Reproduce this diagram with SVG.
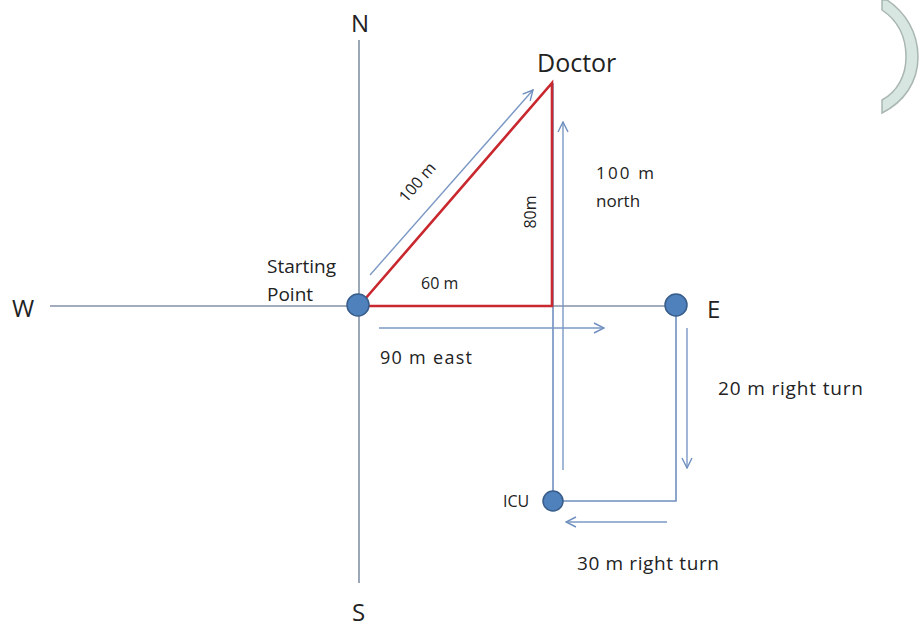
<svg xmlns="http://www.w3.org/2000/svg" width="922" height="629" viewBox="0 0 922 629">
<defs>
<marker id="arr" viewBox="0 0 12 12" refX="11" refY="6" markerWidth="12" markerHeight="12" markerUnits="userSpaceOnUse" orient="auto">
<polyline points="1,1 11,6 1,11" fill="none" stroke="#6f8fbf" stroke-width="1.4"/>
</marker>
<style>
text{font-family:"Open Sans","Liberation Sans",sans-serif;fill:#222}
.axis{stroke:#8391a6;stroke-width:1.6;fill:none}
.path{stroke:#6f8fbf;stroke-width:1.6;fill:none}
.arrow{stroke:#7b98c4;stroke-width:1.4;fill:none;marker-end:url(#arr)}
.red{stroke:#c8282e;stroke-width:2.6;fill:none}
.dot{fill:#4f81bd;stroke:#385d8a;stroke-width:1.5}
.big{font-size:24px}
.sm{font-size:16px}
.md{font-size:19px}
</style>
</defs>
<rect width="922" height="629" fill="#ffffff"/>
<path d="M887 0 C905 12 918 32 918 57 C918 82 904 102 882 113 L882 100 C897 92 906 76 906 57 C906 36 897 20 882 10 L882 0 Z" fill="#d7e6e1" stroke="#a9b6b2" stroke-width="1.5"/>
<g id="connectors">
<line class="axis" x1="359" y1="40" x2="359" y2="583"/>
<line class="axis" x1="50" y1="306" x2="676" y2="306"/>
<polyline class="path" points="676,306 676,501 553,501"/>
<line class="path" x1="553" y1="501" x2="553" y2="83"/>
<polyline class="red" points="359,306 552,83 552,306 359,306"/>
<line class="arrow" x1="370" y1="275" x2="533" y2="90"/>
<line class="arrow" x1="563" y1="470" x2="563" y2="122"/>
<line class="arrow" x1="379" y1="328" x2="604" y2="328"/>
<line class="arrow" x1="687" y1="328" x2="687" y2="468"/>
<line class="arrow" x1="667" y1="522" x2="566" y2="522"/>
</g>
<g id="n-label"><text class="big" x="351" y="32">N</text></g>
<g id="s-label"><text class="big" x="352" y="621">S</text></g>
<g id="w-label"><text class="big" x="12" y="317">W</text></g>
<g id="start"><circle class="dot" cx="358" cy="305" r="11"/>
<text x="267" y="273" style="font-size:19px">Starting</text>
<text x="267" y="301" style="font-size:19px">Point</text></g>
<g id="east"><circle class="dot" cx="676" cy="305" r="11"/>
<text class="big" x="707" y="318">E</text></g>
<g id="doctor"><text x="537" y="72" style="font-size:25px">Doctor</text></g>
<g id="icu"><circle class="dot" cx="553" cy="501" r="10"/>
<text class="sm" x="503" y="507">ICU</text></g>
<g id="labels">
<text class="sm" x="421" y="289">60 m</text>
<text class="sm" text-anchor="middle" dominant-baseline="central" transform="translate(417,182) rotate(-49)">100 m</text>
<text class="sm" text-anchor="middle" dominant-baseline="central" transform="translate(530,212) rotate(-90)">80m</text>
<text style="font-size:17px" x="596" y="179" textLength="58" lengthAdjust="spacing">100 m</text>
<text style="font-size:17px" x="596" y="207">north</text>
<text style="font-size:18px" x="380" y="364" textLength="92" lengthAdjust="spacing">90 m east</text>
<text class="md" x="718" y="395" textLength="145" lengthAdjust="spacing">20 m right turn</text>
<text class="md" x="577" y="570" textLength="142" lengthAdjust="spacing">30 m right turn</text>
</g>
</svg>
